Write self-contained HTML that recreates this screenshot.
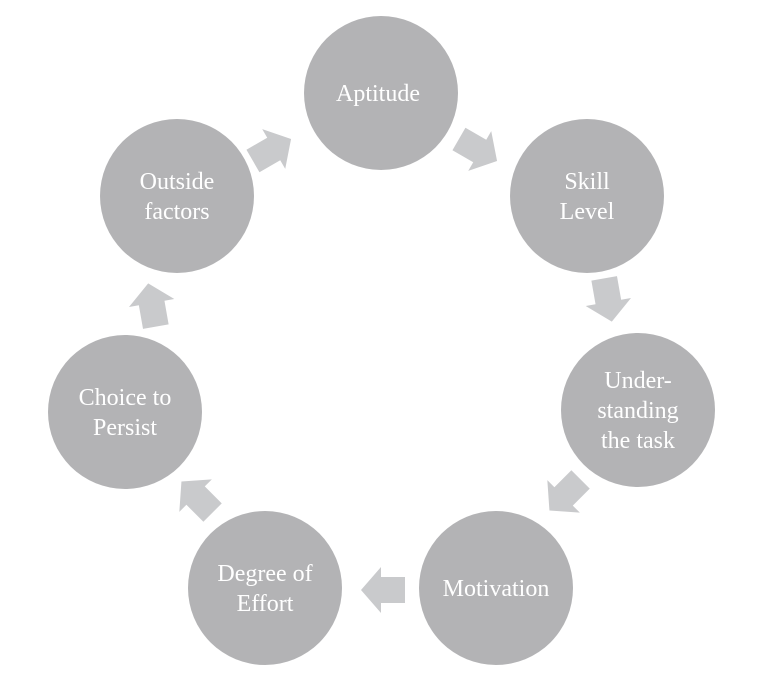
<!DOCTYPE html>
<html><head><style>body{margin:0;background:#fff}</style></head><body>
<svg width="768" height="679" xmlns="http://www.w3.org/2000/svg" font-family="Liberation Serif, serif" font-size="24" fill="#fff" text-anchor="middle">
<defs><polygon id="a" points="-22,-13 2,-13 2,-23 22,0 2,23 2,13 -22,13" fill="#c9cacc"/></defs>
<g fill="#b3b3b5">
<circle cx="381" cy="93" r="77"/>
<circle cx="587" cy="196" r="77"/>
<circle cx="638" cy="410" r="77"/>
<circle cx="496" cy="588" r="77"/>
<circle cx="265" cy="588" r="77"/>
<circle cx="125" cy="412" r="77"/>
<circle cx="177" cy="196" r="77"/>
</g>
<use href="#a" transform="translate(272,150) rotate(-30)"/>
<use href="#a" transform="translate(478,150) rotate(30)"/>
<use href="#a" transform="translate(608,300) rotate(80)"/>
<use href="#a" transform="translate(565,495) rotate(135)"/>
<use href="#a" transform="translate(383,590) rotate(180)"/>
<use href="#a" transform="translate(197,497) rotate(225)"/>
<use href="#a" transform="translate(152,305) rotate(-100)"/>
<text x="378" y="101">Aptitude</text>
<text x="587" y="189">Skill</text><text x="587" y="219">Level</text>
<text x="638" y="388">Under-</text><text x="638" y="418">standing</text><text x="638" y="448">the task</text>
<text x="496" y="596">Motivation</text>
<text x="265" y="581">Degree of</text><text x="265" y="611">Effort</text>
<text x="125" y="405">Choice to</text><text x="125" y="435">Persist</text>
<text x="177" y="189">Outside</text><text x="177" y="219">factors</text>
</svg>
</body></html>
